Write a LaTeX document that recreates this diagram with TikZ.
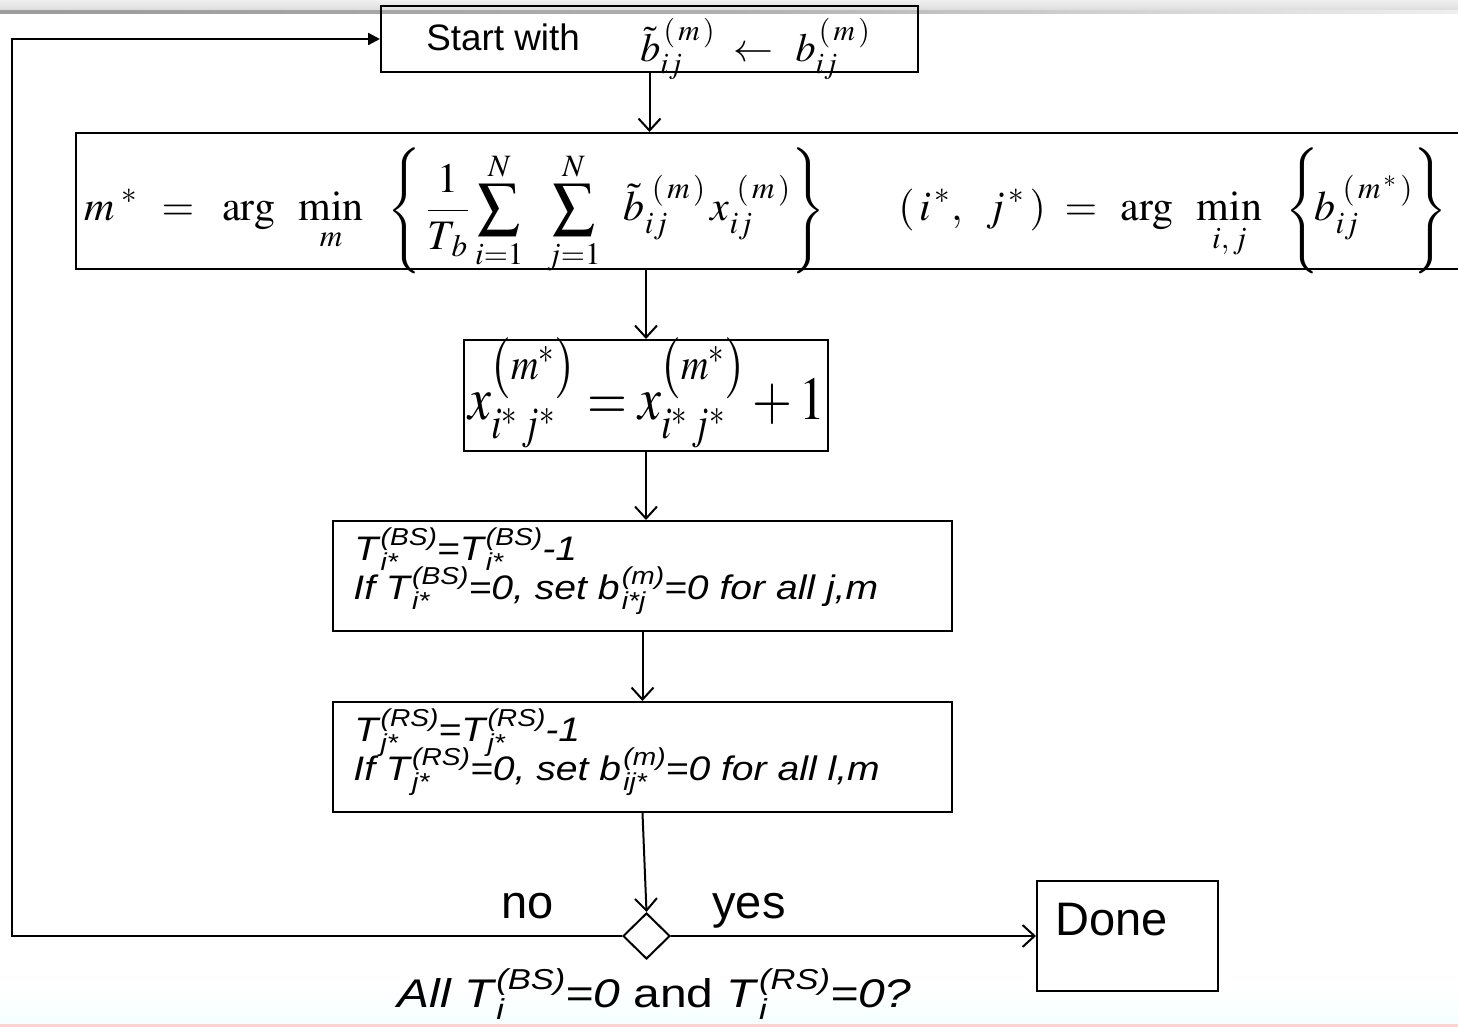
\documentclass[tikz,border=0pt]{standalone}
\usepackage{mathptmx}
\usepackage[no-math]{fontspec}
\usepackage{graphicx}
\newfontfamily\arial{Liberation Sans}
\usetikzlibrary{arrows.meta,shapes.geometric}
\newcommand\scf{\fontsize{0.72em}{0.8em}\selectfont}
\newcommand\SubSup[2]{\kern0.06em\rlap{\raisebox{-0.3em}{\scf #1}}\raisebox{0.44em}{\scf #2}}
\begin{document}
\begin{tikzpicture}[x=0.5pt,y=-0.5pt,
  box/.style={draw, line width=1pt, inner sep=0pt},
  arr/.style={line width=1pt, -{Straight Barb[length=6pt,width=11pt,line width=1pt]}},
  lbl/.style={font=\arial\fontsize{23.5}{28}\selectfont, inner sep=0pt},
  txt/.style={inner sep=0pt, anchor=base west},
  itx/.style={txt, font=\arial\itshape\fontsize{17}{20}\selectfont}]
\useasboundingbox (0,0) rectangle (1458,1027);
% slide background
\shade[top color=gray!12, bottom color=gray!28] (0,0) rectangle (1458,11);
\shade[left color=gray!78, right color=gray!12, middle color=gray!62] (0,11) rectangle (1458,14);
\shade[top color=white, bottom color=cyan!4] (0,985) rectangle (1458,1024);
\fill[red!18] (0,1024) rectangle (1458,1027);

% start
\node[box, minimum width=268.5pt, minimum height=33pt] (start) at (649.5,39) {};
\node[txt, font=\arial\fontsize{18.4}{22}\selectfont] (starttxt) at (426,51) {Start with};
\node[txt, font=\fontsize{20}{24}\selectfont] (startmath) at (640,62)
  {$\tilde{b}_{ij}^{\,(\,m\,)}\;\leftarrow\;\,b_{ij}^{\,(\,m\,)}$};

% optimisation box
\node[box, minimum width=697pt, minimum height=68pt] (opt) at (773,201) {};
\node[txt, font=\fontsize{21}{25}\selectfont] (optL) at (84,221)
  {$\displaystyle m^{\;*}\;\,=\;\;\arg\;\;\mathop{\min}\limits_{m}\;\;\left\{\,\frac{1}{T_{\,b}}\sum_{i=1}^{N}\;\;\sum_{j=1}^{N}\;\;\tilde{b}_{ij}^{\;(\,m\,)}\,x_{ij}^{\;(\,m\,)}\right\}$};
\node[txt, font=\fontsize{21}{25}\selectfont] (optR) at (898,221)
  {$\displaystyle (\,i^{\,*},\;\;j^{\,*}\,)\;=\;\,\arg\;\;\mathop{\min}\limits_{i,\,j}\;\;\left\{\!\!\!\;b_{ij}^{\;(\,m^{\,*}\,)}\vphantom{\sum_{i=1}^{N}}\right\}$};

% update box
\node[box, minimum width=182pt, minimum height=55.5pt] (upd) at (646,395.5) {};
\node[txt] (updtxt) at (468,420)
  {\resizebox{178.5pt}{41pt}{\fontsize{32}{36}\selectfont$x_{i^{*}\,j^{*}}^{\left(\rule[-0.28em]{0pt}{0.8em}m^{*}\right)}=x_{i^{*}\,j^{*}}^{\left(\rule[-0.28em]{0pt}{0.8em}m^{*}\right)}+1$}};

% BS box
\node[box, minimum width=309.5pt, minimum height=55pt] (bs) at (642.5,576) {};
\node[itx] (bs1) at (354,560)
  {\scalebox{1.15}[1]{T\SubSup{i*}{(BS)}=T\SubSup{i*}{(BS)}-1}};
\node[itx] (bs2) at (353,599)
  {\scalebox{1.15}[1]{If T\SubSup{i*}{(BS)}=0, set b\SubSup{i*j}{(m)}=0 for all j,m}};

% RS box
\node[box, minimum width=309.5pt, minimum height=55pt] (rs) at (642.5,757) {};
\node[itx] (rs1) at (354,741)
  {\scalebox{1.15}[1]{T\SubSup{j*}{(RS)}=T\SubSup{j*}{(RS)}-1}};
\node[itx] (rs2) at (353,780)
  {\scalebox{1.15}[1]{If T\SubSup{j*}{(RS)}=0, set b\SubSup{ij*}{(m)}=0 for all l,m}};

% decision
\node[draw, diamond, line width=1pt, inner sep=0pt, minimum width=23.5pt, minimum height=23pt] (dec) at (646.5,936) {};
\node[txt, font=\arial\itshape\fontsize{20}{24}\selectfont] (q) at (397,1007)
  {\scalebox{1.2}[1]{All T\SubSup{i}{(BS)}=0 {\upshape and} T\SubSup{i}{(RS)}=0?}};
\node[lbl, anchor=base] (no) at (528,918) {no};
\node[lbl, anchor=base] (yes) at (749,918) {yes};

% done
\node[box, minimum width=90.5pt, minimum height=55pt] (done) at (1127.5,936) {};
\node[lbl, anchor=base west] (donetxt) at (1055,935) {Done};

% connectors
\draw[arr] (start.south) -- (start.south |- opt.north);
\draw[arr] (upd.north |- opt.south) -- (upd.north);
\draw[arr] (upd.south) -- (upd.south |- bs.north);
\draw[arr] (bs.south) -- (rs.north);
\draw[arr] (rs.south) -- (dec.north);
\draw[arr] (dec.east) -- (done.west);
\coordinate (lc) at (12,936);
\draw[line width=1.2pt, -{Triangle[length=6pt,width=6pt]}] (dec.west) -- (lc) |- (start.west);
\end{tikzpicture}
\end{document}
